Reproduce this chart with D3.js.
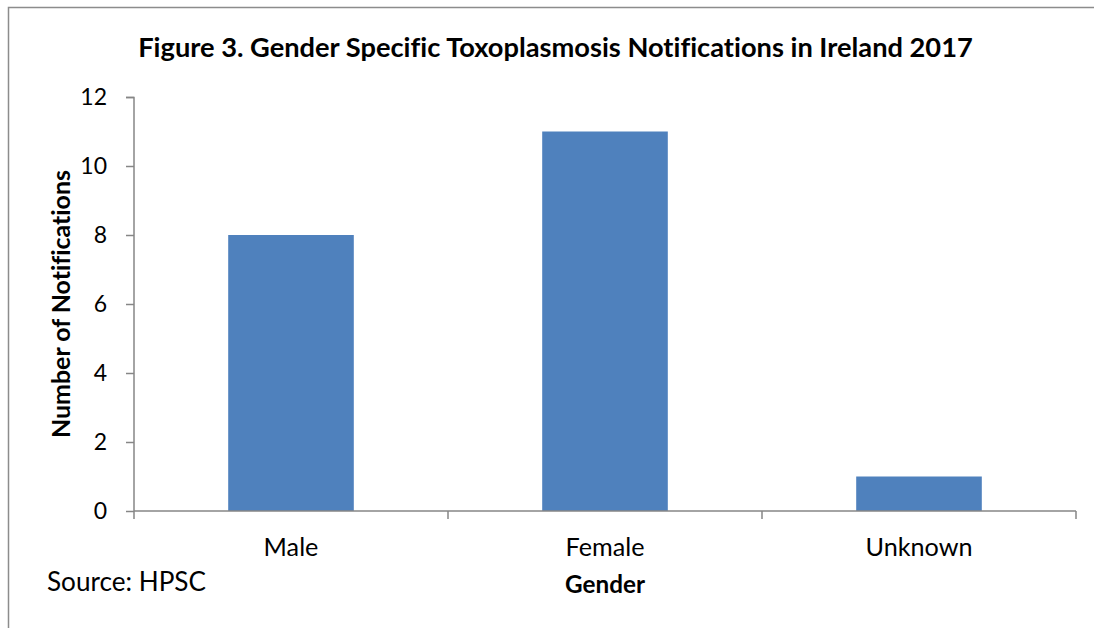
<!DOCTYPE html>
<html><head><meta charset="utf-8">
<script src="https://cdn.jsdelivr.net/npm/d3@7"></script>
<style>body{margin:0;background:#fff}svg{display:block}text{font-family:Lato,"Open Sans",sans-serif;font-variant-ligatures:none}</style>
</head><body>
<svg id="c" width="1094" height="628"></svg>
<script>
const categories = ["Male", "Female", "Unknown"];
const values = [8, 11, 1];
const yTicks = [0, 2, 4, 6, 8, 10, 12];
const titleText = "Figure 3. Gender Specific Toxoplasmosis Notifications in Ireland 2017";
const xTitle = "Gender";
const yTitle = "Number of Notifications";
const sourceText = "Source: HPSC";

const svg = d3.select("#c");
const axisCol = "#868686";
const m = {left: 134, right: 1076, top: 97, bottom: 511};

// frame
svg.append("path").attr("d", "M8.5,628 L8.5,7.5 L1094,7.5").attr("fill", "none").attr("stroke", "#8c8c8c").attr("stroke-width", 1.5);

const x = d3.scaleBand().domain(categories).range([m.left, m.right]).paddingInner(0.6).paddingOuter(0.3);
const y = d3.scaleLinear().domain([0, 12]).range([m.bottom, m.top]);

function fit(sel, w) {
  const n = sel.node();
  const fs = parseFloat(sel.attr("font-size"));
  const cur = n.getComputedTextLength();
  sel.attr("font-size", fs * w / cur);
}

// bars
svg.selectAll("rect.bar").data(values).join("rect").attr("class", "bar")
  .attr("x", (d, i) => x(categories[i])).attr("width", x.bandwidth())
  .attr("y", d => y(d)).attr("height", d => y(0) - y(d)).attr("fill", "#4F81BD");

// y axis
const ya = svg.append("g").attr("transform", `translate(${m.left},0)`)
  .call(d3.axisLeft(y).tickValues(yTicks).tickSize(8).tickPadding(19).tickFormat(d3.format("d")));
ya.select(".domain").attr("stroke", axisCol).attr("stroke-width", 1.5).attr("d", `M-8,${m.top}.5H0V${m.bottom}`);
ya.selectAll(".tick line").attr("stroke", axisCol).attr("stroke-width", 1.5);
ya.selectAll(".tick text").attr("font-size", 23).attr("fill", "#000").attr("font-family", "Lato");

// x axis
const xa = svg.append("g").attr("transform", `translate(0,${m.bottom})`)
  .call(d3.axisBottom(x).tickSize(0).tickPadding(24));
xa.select(".domain").attr("stroke", axisCol).attr("stroke-width", 1.5).attr("d", `M${m.left},0H${m.right}`);
xa.selectAll(".tick text").attr("font-size", 21).attr("fill", "#000").attr("font-family", "Lato").attr("dy", "0.82em");
{
  const tf = xa.selectAll(".tick text").filter(d => d === "Female");
  fit(tf, 79);
  xa.selectAll(".tick text").attr("font-size", tf.attr("font-size"));
}
svg.append("g").selectAll("line").data(d3.range(categories.length + 1)).join("line")
  .attr("x1", i => m.left + (m.right - m.left) * i / categories.length)
  .attr("x2", i => m.left + (m.right - m.left) * i / categories.length)
  .attr("y1", m.bottom).attr("y2", m.bottom + 8).attr("stroke", axisCol).attr("stroke-width", 1.5);

// title
const t = svg.append("text").attr("x", 555.5).attr("y", 57).attr("text-anchor", "middle")
  .attr("font-weight", "bold").attr("font-size", 24).text(titleText);
fit(t, 835);

// y title
const yt = svg.append("text").attr("transform", "translate(70,304) rotate(-90)").attr("text-anchor", "middle")
  .attr("font-weight", "bold").attr("font-size", 21).text(yTitle);
fit(yt, 268);

// x title
const xtl = svg.append("text").attr("x", 605).attr("y", 593).attr("text-anchor", "middle")
  .attr("font-weight", "bold").attr("font-size", 21).text(xTitle);
fit(xtl, 80);

// source
const s = svg.append("text").attr("x", 47).attr("y", 591).attr("font-size", 24).text(sourceText);
fit(s, 159);
</script>
</body></html>
